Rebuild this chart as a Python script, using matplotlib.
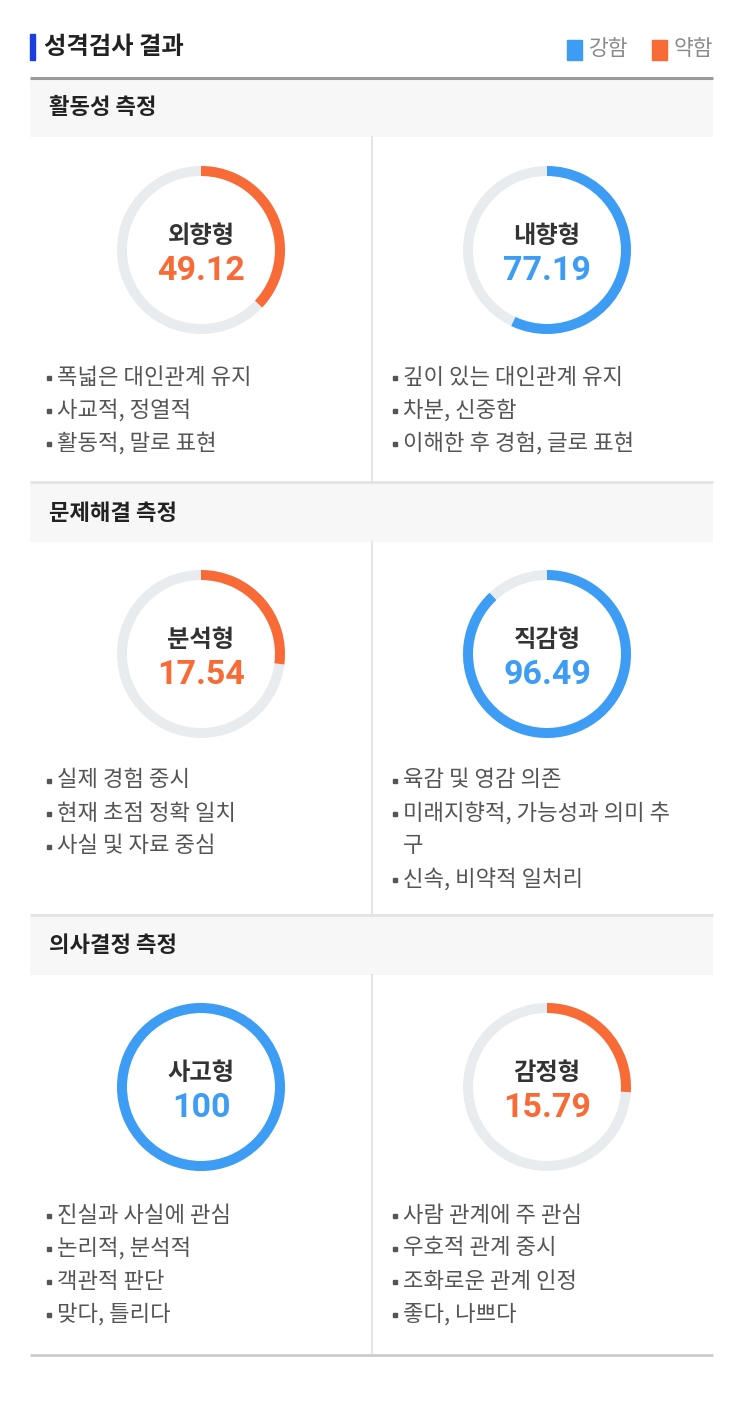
import matplotlib.pyplot as plt
from matplotlib.patches import Wedge, Rectangle

plt.rcParams['font.family'] = ['Noto Sans CJK KR', 'DejaVu Sans']

# ---- data ----
title = '성격검사 결과'
legend_labels = ['강함', '약함']
sections = ['활동성 측정', '문제해결 측정', '의사결정 측정']
types = ['외향형', '내향형', '분석형', '직감형', '사고형', '감정형']
scores = [49.12, 77.19, 17.54, 96.49, 100, 15.79]
strong = [False, True, False, True, True, False]
arc_fill = [0.37, 0.57, 0.27, 0.88, 1.0, 0.26]   # share of ring drawn, as seen
traits = [
    ['폭넓은 대인관계 유지', '사교적, 정열적', '활동적, 말로 표현'],
    ['깊이 있는 대인관계 유지', '차분, 신중함', '이해한 후 경험, 글로 표현'],
    ['실제 경험 중시', '현재 초점 정확 일치', '사실 및 자료 중심'],
    ['육감 및 영감 의존', '미래지향적, 가능성과 의미 추\n구', '신속, 비약적 일처리'],
    ['진실과 사실에 관심', '논리적, 분석적', '객관적 판단', '맞다, 틀리다'],
    ['사람 관계에 주 관심', '우호적 관계 중시', '조화로운 관계 인정', '좋다, 나쁘다'],
]

BLUE = '#3d9cf4'
ORANGE = '#f86a36'
TRACK = '#e9ecef'
TEXT = '#555555'

W, H = 743, 1406
fig = plt.figure(figsize=(W / 100, H / 100), dpi=100)
ax = fig.add_axes([0, 0, 1, 1])
ax.set_xlim(0, W)
ax.set_ylim(H, 0)
ax.axis('off')

# title + legend
ax.add_patch(Rectangle((30, 34), 5, 26, color='#1b3fe0'))
ax.text(44, 47, title, fontsize=17.5, fontweight='bold', color='#222222', va='center')
for i, (lab, col) in enumerate(zip(legend_labels, [BLUE, ORANGE])):
    x0 = 567 + i * 85
    ax.add_patch(Rectangle((x0, 40), 15, 20, color=col))
    ax.text(x0 + 22, 49, lab, fontsize=15.5, color='#8a8a8a', va='center')
ax.plot([30, 713], [77.5, 77.5], color='#9a9a9a', lw=2.2, solid_capstyle='butt')

band_top = [79, 484, 917]
sec_end = [482, 915, 1355]
ring_y = [250, 654, 1087]
list_y = [377, 780, 1215]
cols_x = [201, 547]
R, RW = 84, 10
step = 33

for s, name in enumerate(sections):
    top = band_top[s]
    ax.add_patch(Rectangle((30, top), 683, 58, color='#f7f7f7', lw=0))
    ax.text(49, top + 29, name, fontsize=16, fontweight='bold', color='#222222', va='center')
    ax.plot([372, 372], [top + 58, sec_end[s]], color='#e6e6e6', lw=1.5)
    ax.plot([30, 713], [sec_end[s], sec_end[s]], color='#e3e3e3' if s < 2 else '#cccccc',
            lw=2, solid_capstyle='butt')
    for c in range(2):
        k = s * 2 + c
        cx, cy = cols_x[c], ring_y[s]
        col = BLUE if strong[k] else ORANGE
        ax.add_patch(Wedge((cx, cy), R, 0, 360, width=RW, color=TRACK, lw=0))
        ax.add_patch(Wedge((cx, cy), R, -90, -90 + 360 * arc_fill[k], width=RW, color=col, lw=0))
        ax.text(cx, cy - 14, types[k], fontsize=17.5, fontweight='bold', color='#333333',
                ha='center', va='center')
        ax.text(cx, cy + 30, f'{scores[k]:g}', fontsize=24.5, fontweight='bold', color=col,
                family='Roboto', ha='center', va='baseline')
        y = list_y[s]
        bx = 49 if c == 0 else 395
        for item in traits[k]:
            ax.plot(bx, y + 1, marker='s', ms=2.4, color='#555555')
            for line in item.split('\n'):
                ax.text(bx + 8, y, line, fontsize=16, color=TEXT, va='center')
                y += step

fig.savefig('out.png', dpi=100)
